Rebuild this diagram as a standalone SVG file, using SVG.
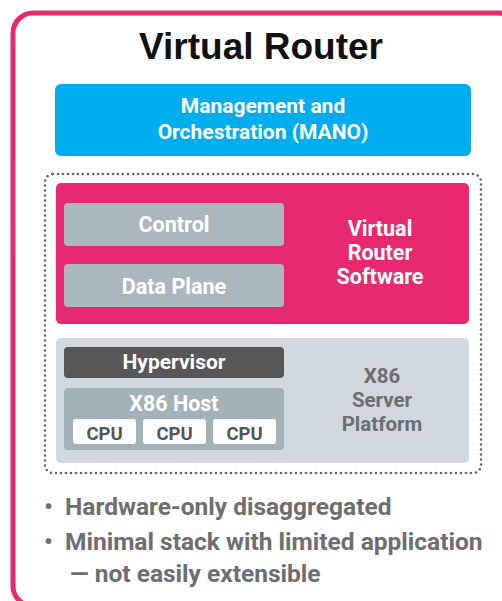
<svg xmlns="http://www.w3.org/2000/svg" width="502" height="601" viewBox="0 0 502 601">
<style>
.t{font-family:Roboto,"Liberation Sans",sans-serif;font-weight:700;text-anchor:middle}
.w{fill:#ffffff}
.g{fill:#6d6e71}
.b{font-family:Roboto,"Liberation Sans",sans-serif;font-weight:700;fill:#6d6e71;font-size:24.5px}
</style>
<rect width="502" height="601" fill="#ffffff"/>
<g id="frame">
<rect x="13" y="13" width="505" height="593" rx="20" fill="none" stroke="#e8296f" stroke-width="5"/>
<text x="261" y="59" font-family="'Liberation Sans',Arial,sans-serif" font-weight="700" font-size="37" text-anchor="middle" fill="#111111">Virtual Router</text>
</g>
<g id="mano">
<rect x="55" y="84" width="416" height="72" rx="6" fill="#00aeef"/>
<text class="t w" x="263" y="113" font-size="21">Management and</text>
<text class="t w" x="263" y="139" font-size="21">Orchestration (MANO)</text>
</g>
<g id="boundary">
<rect x="45" y="174" width="436" height="299" rx="8" fill="none" stroke="#5b6770" stroke-width="2.6" stroke-dasharray="0 5" stroke-linecap="round"/>
</g>
<g id="software">
<rect x="56" y="183" width="413" height="141" rx="5" fill="#e8296f"/>
<text class="t w" x="380" y="236" font-size="21.5">Virtual</text>
<text class="t w" x="380" y="260" font-size="21.5">Router</text>
<text class="t w" x="380" y="284" font-size="21.5">Software</text>
</g>
<g id="control">
<rect x="64" y="203" width="220" height="43" rx="4" fill="#abb7bf"/>
<text class="t w" x="174" y="232" font-size="21.5">Control</text>
</g>
<g id="dataplane">
<rect x="64" y="264" width="220" height="43" rx="4" fill="#abb7bf"/>
<text class="t w" x="174" y="294" font-size="21.5">Data Plane</text>
</g>
<g id="platform">
<rect x="56" y="338" width="413" height="125" rx="5" fill="#d1d8de"/>
<text class="t g" x="382" y="383" font-size="20.5">X86</text>
<text class="t g" x="382" y="407" font-size="20.5">Server</text>
<text class="t g" x="382" y="431" font-size="20.5">Platform</text>
</g>
<g id="hypervisor">
<rect x="64" y="347" width="220" height="31" rx="4" fill="#575757"/>
<text class="t w" x="174" y="369" font-size="21">Hypervisor</text>
</g>
<g id="host">
<rect x="64" y="388" width="220" height="62" rx="4" fill="#a3b1b9"/>
<text class="t w" x="174" y="411" font-size="21.5">X86 Host</text>
</g>
<g id="cpu1">
<rect x="73" y="419" width="63" height="25" rx="3" fill="#ffffff"/>
<text class="t" x="104.5" y="440" font-size="18.5" fill="#555555">CPU</text>
</g>
<g id="cpu2">
<rect x="143" y="419" width="63" height="25" rx="3" fill="#ffffff"/>
<text class="t" x="174.5" y="440" font-size="18.5" fill="#555555">CPU</text>
</g>
<g id="cpu3">
<rect x="213" y="419" width="63" height="25" rx="3" fill="#ffffff"/>
<text class="t" x="244.5" y="440" font-size="18.5" fill="#555555">CPU</text>
</g>
<g id="notes">
<text class="b" x="44" y="515">•</text>
<text class="b" x="65" y="515">Hardware-only disaggregated</text>
<text class="b" x="44" y="550">•</text>
<text class="b" x="65" y="550">Minimal stack with limited application</text>
<text class="b" x="70" y="582">— not easily extensible</text>
</g>
<g id="connectors"></g>
</svg>
